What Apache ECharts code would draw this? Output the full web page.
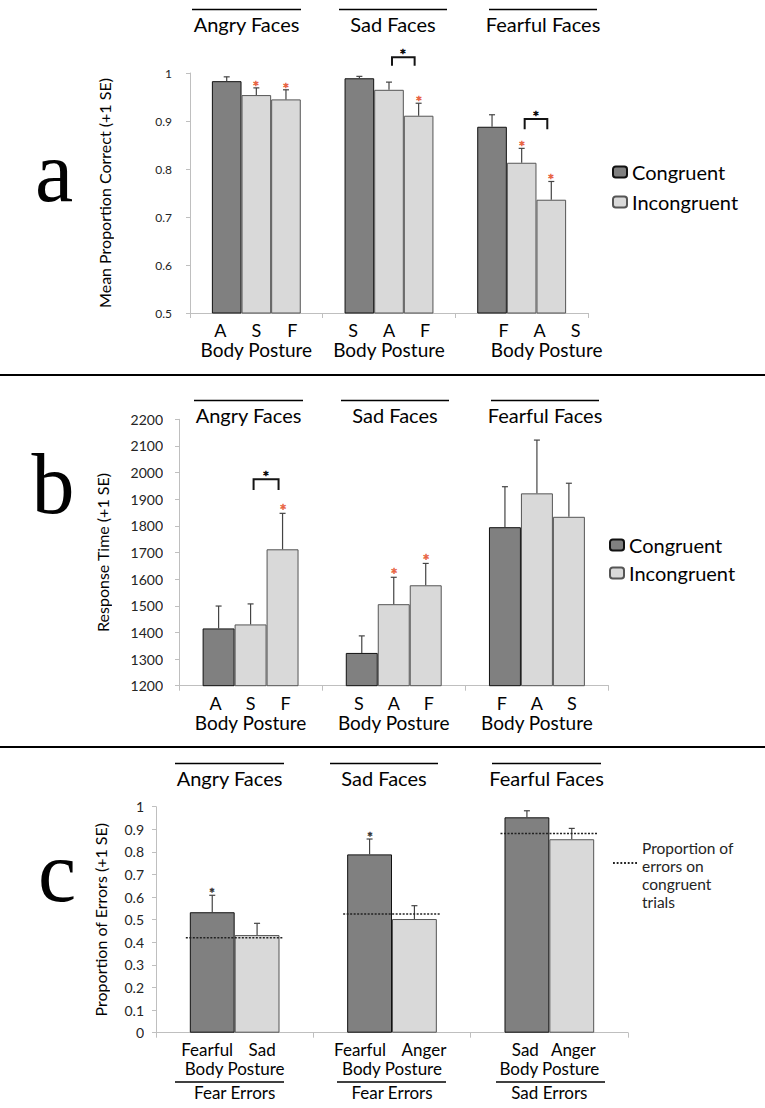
<!DOCTYPE html>
<html><head><meta charset="utf-8">
<script src="https://cdn.jsdelivr.net/npm/echarts@6/dist/echarts.min.js"></script>
<style>html,body{margin:0;padding:0;background:#fff}#c{width:765px;height:1108px}#c svg text{opacity:0.99}</style>
</head><body><div id="c"></div>
<script>
// ---------- Panel a: accuracy ----------
const faceGroups = ['Angry Faces', 'Sad Faces', 'Fearful Faces'];
const postureA = [['A', 'S', 'F'], ['S', 'A', 'F'], ['F', 'A', 'S']];
const accCongruent = [0.983, 0.989, 0.888];
const accIncong1 = [0.954, 0.965, 0.813];
const accIncong2 = [0.945, 0.911, 0.736];
const accSECong = [0.009, 0.004, 0.025];
const accSEInc1 = [0.015, 0.016, 0.030];
const accSEInc2 = [0.020, 0.026, 0.038];
const accSigInc1 = [1, 0, 1];
const accSigInc2 = [1, 1, 1];
// [category, fromBar, toBar, bracketTop, bracketLegEnd]
const accBrackets = [[1, 1, 2, 1.033, 1.015], [2, 1, 2, 0.904, 0.883]];

// ---------- Panel b: response time ----------
const postureB = [['A', 'S', 'F'], ['S', 'A', 'F'], ['F', 'A', 'S']];
const rtCongruent = [1415, 1323, 1795];
const rtIncong1 = [1430, 1506, 1922];
const rtIncong2 = [1712, 1577, 1834];
const rtSECong = [84, 64, 152];
const rtSEInc1 = [77, 101, 200];
const rtSEInc2 = [135, 82, 126];
const rtSigInc1 = [0, 1, 0];
const rtSigInc2 = [1, 1, 0];
const rtBrackets = [[0, 1, 2, 1975, 1935]];

// ---------- Panel c: error proportions ----------
const postureC = [['Fearful', 'Sad'], ['Fearful', 'Anger'], ['Sad', 'Anger']];
const errorType = ['Fear Errors', 'Fear Errors', 'Sad Errors'];
const errFirst = [0.533, 0.789, 0.953];
const errSecond = [0.432, 0.503, 0.856];
const errSEFirst = [0.075, 0.068, 0.029];
const errSESecond = [0.052, 0.059, 0.048];
const errSigFirst = [1, 1, 0];
const errCongruentBaseline = [0.42, 0.525, 0.881];

const yTicksA = {min: 0.5, max: 1, interval: 0.1};
const yTicksB = {min: 1200, max: 2200, interval: 100};
const yTicksC = {min: 0, max: 1, interval: 0.1};

const FONT = 'Lato';
const DARK = '#808080', LIGHT = '#d9d9d9', RED = '#e8603c', INK = '#141414';
const GAP_A = 0.33, GAP_B = 0.33, GAP_C = 0.43;

function barX(api, cat, bi, n, gap) {
  const band = api.size([1, 0])[0];
  const bw = band * (1 - gap) / n;
  const c = api.coord([cat, 0])[0];
  return {x: c - n * bw / 2 + (bi + 0.5) * bw, bw: bw};
}
function starText(x, y, color, size) {
  return {type: 'text', x: Math.round(x), y: Math.round(y), silent: true,
    style: {text: '*', fill: color, stroke: color, lineWidth: 0.5, fontSize: size, fontFamily: FONT, align: 'center', verticalAlign: 'middle'}};
}
function makeErr(n, gap, starColor, starSize) {
  return function (params, api) {
    const cat = api.value(0), bi = api.value(1), v = api.value(2), se = api.value(3), sig = api.value(4);
    const x = barX(api, cat, bi, n, gap).x;
    const y0 = api.coord([cat, v])[1], y1 = api.coord([cat, v + se])[1];
    const ch = [
      {type: 'line', shape: {x1: x, y1: y0, x2: x, y2: y1}, style: {stroke: '#444', lineWidth: 1.2}},
      {type: 'line', shape: {x1: x - 3, y1: y1, x2: x + 3, y2: y1}, style: {stroke: '#444', lineWidth: 1.2}}
    ];
    if (sig) ch.push(starText(x, y1 - 3, starColor, starSize));
    return {type: 'group', children: ch};
  };
}
function bracketEnds(api, n, gap) {
  const cat = api.value(0), f = api.value(1), t = api.value(2);
  return [barX(api, cat, f, n, gap).x + 3, barX(api, cat, t, n, gap).x - 4];
}
function makeBracket(n, gap) {
  return function (params, api) {
    const cat = api.value(0), top = api.value(3), leg = api.value(4);
    const e = bracketEnds(api, n, gap);
    const yt = api.coord([cat, top])[1], yl = api.coord([cat, leg])[1];
    return {type: 'polyline', shape: {points: [[e[0], yl], [e[0], yt], [e[1], yt], [e[1], yl]]},
      style: {stroke: INK, lineWidth: 2, fill: 'none'}};
  };
}
function makeBracketStar(n, gap) {
  return function (params, api) {
    const cat = api.value(0), top = api.value(3);
    const e = bracketEnds(api, n, gap);
    const yt = api.coord([cat, top])[1];
    return starText((e[0] + e[1]) / 2, yt - 4, '#000', 16);
  };
}
function dottedRender(params, api) {
  const cat = api.value(0), v = api.value(1);
  const a = barX(api, cat, 0, 2, GAP_C), b = barX(api, cat, 1, 2, GAP_C);
  const y = api.coord([cat, v])[1];
  return {type: 'line', shape: {x1: a.x - a.bw / 2 - 4, y1: y, x2: b.x + b.bw / 2 + 4, y2: y},
    style: {stroke: '#222', lineWidth: 1.5, lineDash: [2, 1.5]}};
}
function errData(values, ses, sigs, bi) {
  return values.map((v, i) => [i, bi, v, ses[i], sigs ? sigs[i] : 0]);
}

const axisLineStyle = {lineStyle: {color: '#bfbfbf', width: 1}};
function yAxis(grid, t, name, gap, fs, margin) {
  return {type: 'value', gridIndex: grid, min: t.min, max: t.max, interval: t.interval,
    name: name, nameLocation: 'middle', nameRotate: 90, nameGap: gap,
    nameTextStyle: {fontSize: 16, fontFamily: FONT, color: '#000'},
    axisLine: {show: true, lineStyle: {color: '#bfbfbf'}},
    axisTick: {show: true, length: 4, lineStyle: {color: '#bfbfbf'}},
    splitLine: {show: false},
    axisLabel: {fontSize: fs, fontFamily: FONT, color: '#222', margin: margin,
      formatter: function (v) { return String(+v.toFixed(2)); }}};
}
function xAxisBase(grid) {
  return {type: 'category', gridIndex: grid, data: faceGroups,
    axisLine: axisLineStyle, axisTick: {show: true, length: 5, lineStyle: {color: '#bfbfbf'}}};
}

const xa = xAxisBase(0);
xa.axisLabel = {interval: 0, margin: 7, color: '#000', fontFamily: FONT,
  formatter: function (v, i) {
    const s1 = i === 2 ? '{s36| }' : '', s2 = i === 2 ? '{s50| }' : '';
    return s1 + postureA[i].map(p => '{p|' + p + '}').join('') + '\n' + s2 + '{bp|Body Posture}';
  },
  rich: {p: {width: 36, align: 'center', fontSize: 18, lineHeight: 19.5, fontFamily: FONT, color: '#000'},
    bp: {fontSize: 19, lineHeight: 19.5, fontFamily: FONT, color: '#000'},
    s36: {width: 36, fontSize: 18}, s50: {width: 50, fontSize: 18}}};
const xb = xAxisBase(1);
xb.axisLabel = {interval: 0, margin: 7, color: '#000', fontFamily: FONT,
  formatter: function (v, i) {
    return postureB[i].map(p => '{p|' + p + '}').join('') + '\n{bp|Body Posture}';
  },
  rich: {p: {width: 35, align: 'center', fontSize: 18, lineHeight: 20, fontFamily: FONT, color: '#000'},
    bp: {fontSize: 19, lineHeight: 20, fontFamily: FONT, color: '#000'}}};
const xc = xAxisBase(2);
xc.axisLabel = {interval: 0, margin: 7, color: '#000', fontFamily: FONT,
  formatter: function (v, i) {
    return postureC[i].map(p => '{w' + i + '|' + p + '}').join('') + '\n{bp|Body Posture}\n{fe|' + errorType[i] + '}';
  },
  rich: {w0: {width: 55, align: 'center', fontSize: 17, lineHeight: 19, fontFamily: FONT, color: '#000'},
    w1: {width: 64, align: 'center', fontSize: 17, lineHeight: 19, fontFamily: FONT, color: '#000'},
    w2: {width: 48, align: 'center', fontSize: 17, lineHeight: 19, fontFamily: FONT, color: '#000'},
    bp: {fontSize: 17, lineHeight: 19, fontFamily: FONT, color: '#000'},
    fe: {fontSize: 17, lineHeight: 30, fontFamily: FONT, color: '#000'}}};

const darkStyle = {color: DARK, borderColor: '#111', borderWidth: 1};
const lightStyle = {color: LIGHT, borderColor: '#555', borderWidth: 1};
function bar(name, grid, data, style, gap) {
  return {type: 'bar', name: name, xAxisIndex: grid, yAxisIndex: grid, data: data,
    barGap: '0%', barCategoryGap: (gap * 100) + '%', itemStyle: style, emphasis: {disabled: true}};
}
function custom(name, grid, data, render, dims, color) {
  return {type: 'custom', name: name, xAxisIndex: grid, yAxisIndex: grid, data: data,
    renderItem: render, clip: false, encode: {x: 0, y: dims}, silent: true, z: 5,
    itemStyle: {color: color || INK}, emphasis: {disabled: true}};
}

const dotIcon = 'path://M0,0h2v2h-2zM4,0h2v2h-2zM8,0h2v2h-2zM12,0h2v2h-2zM16,0h2v2h-2zM20,0h2v2h-2zM24,0h2v2h-2z';
const legendText = {fontSize: 20, fontFamily: FONT, color: '#000', lineHeight: 20};

function headerGraphics(y, items) {
  const out = [];
  items.forEach(function (it, i) {
    out.push({type: 'line', shape: {x1: it[0], y1: y, x2: it[1], y2: y}, style: {stroke: '#000', lineWidth: 1.6}});
    out.push({type: 'text', x: (it[0] + it[1]) / 2, y: y + 14, style: {text: faceGroups[i], fontSize: 20, fontFamily: FONT, fill: '#000', align: 'center', verticalAlign: 'middle'}});
  });
  return out;
}

const graphic = [].concat(
  headerGraphics(9.5, [[192, 301], [339, 447], [489, 597]]),
  headerGraphics(400.5, [[194, 303], [341, 449], [491, 599]]),
  headerGraphics(763.5, [[175, 284], [330, 438], [492, 601]]),
  [
    {type: 'line', shape: {x1: 0, y1: 375, x2: 765, y2: 375}, style: {stroke: '#000', lineWidth: 2}},
    {type: 'line', shape: {x1: 0, y1: 747, x2: 765, y2: 747}, style: {stroke: '#000', lineWidth: 2}},
    {type: 'line', shape: {x1: 175, y1: 1082, x2: 284, y2: 1082}, style: {stroke: '#000', lineWidth: 1.6}},
    {type: 'line', shape: {x1: 337, y1: 1082, x2: 446, y2: 1082}, style: {stroke: '#000', lineWidth: 1.6}},
    {type: 'line', shape: {x1: 496, y1: 1082, x2: 605, y2: 1082}, style: {stroke: '#000', lineWidth: 1.6}},
    {type: 'text', x: 54, y: 172, style: {text: 'a', fontSize: 86, fontFamily: 'Liberation Serif', fill: '#000', align: 'center', verticalAlign: 'middle'}},
    {type: 'text', x: 53, y: 484, style: {text: 'b', fontSize: 86, fontFamily: 'Liberation Serif', fill: '#000', align: 'center', verticalAlign: 'middle'}},
    {type: 'text', x: 57, y: 872, style: {text: 'c', fontSize: 86, fontFamily: 'Liberation Serif', fill: '#000', align: 'center', verticalAlign: 'middle'}}
  ]
);

const option = {
  animation: false,
  backgroundColor: '#fff',
  grid: [
    {left: 190, top: 73, width: 398, height: 240},
    {left: 179, top: 419.3, width: 429.5, height: 266.4},
    {left: 156, top: 806.7, width: 472, height: 226}
  ],
  xAxis: [xa, xb, xc],
  yAxis: [
    yAxis(0, yTicksA, 'Mean Proportion Correct (+1 SE)', 78, 12, 18),
    yAxis(1, yTicksB, 'Response Time (+1 SE)', 69, 14, 16),
    yAxis(2, yTicksC, 'Proportion of Errors (+1 SE)', 48, 14, 12)
  ],
  legend: [
    {data: ['Congruent', 'Incongruent'], orient: 'vertical', left: 612, top: 162, padding: 0,
      itemWidth: 14, itemHeight: 11, itemGap: 10, textStyle: legendText, selectedMode: false},
    {data: ['Congruent', 'Incongruent'], orient: 'vertical', left: 609, top: 535, padding: 0,
      itemWidth: 14, itemHeight: 11, itemGap: 8, textStyle: legendText, selectedMode: false},
    {data: [{name: 'Proportion of errors on congruent trials', icon: dotIcon}], left: 613, top: 815, padding: 0,
      itemWidth: 24, itemHeight: 2, selectedMode: false,
      formatter: function () { return '{sp| }\n{t|Proportion of}\n{t|errors on}\n{t|congruent}\n{t|trials}'; },
      textStyle: {fontSize: 15.5, fontFamily: FONT, color: '#222', lineHeight: 18,
        rich: {sp: {fontSize: 10, lineHeight: 24}, t: {fontSize: 15.5, lineHeight: 18, fontFamily: FONT, color: '#222'}}}}
  ],
  series: [
    bar('Congruent', 0, accCongruent, darkStyle, GAP_A),
    bar('Incongruent', 0, accIncong1, lightStyle, GAP_A),
    bar('Incongruent', 0, accIncong2, lightStyle, GAP_A),
    custom('SE a', 0, [].concat(errData(accCongruent, accSECong, null, 0), errData(accIncong1, accSEInc1, accSigInc1, 1), errData(accIncong2, accSEInc2, accSigInc2, 2)), makeErr(3, GAP_A, RED, 16), 2, '#444'),
    custom('Brackets a', 0, accBrackets, makeBracket(3, GAP_A), 3, INK),
    custom('Bracket stars a', 0, accBrackets, makeBracketStar(3, GAP_A), 3, '#000'),

    bar('Congruent', 1, rtCongruent, darkStyle, GAP_B),
    bar('Incongruent', 1, rtIncong1, lightStyle, GAP_B),
    bar('Incongruent', 1, rtIncong2, lightStyle, GAP_B),
    custom('SE b', 1, [].concat(errData(rtCongruent, rtSECong, null, 0), errData(rtIncong1, rtSEInc1, rtSigInc1, 1), errData(rtIncong2, rtSEInc2, rtSigInc2, 2)), makeErr(3, GAP_B, RED, 17), 2, '#444'),
    custom('Brackets b', 1, rtBrackets, makeBracket(3, GAP_B), 3, INK),
    custom('Bracket stars b', 1, rtBrackets, makeBracketStar(3, GAP_B), 3, '#000'),

    bar('First posture errors', 2, errFirst, darkStyle, GAP_C),
    bar('Second posture errors', 2, errSecond, lightStyle, GAP_C),
    custom('SE c', 2, [].concat(errData(errFirst, errSEFirst, errSigFirst, 0), errData(errSecond, errSESecond, null, 1)), makeErr(2, GAP_C, '#333', 14), 2, '#444'),
    custom('Proportion of errors on congruent trials', 2, errCongruentBaseline.map((v, i) => [i, v]), dottedRender, 1, '#222')
  ],
  graphic: graphic
};

const chart = echarts.init(document.getElementById('c'), null, {renderer: 'svg'});
chart.setOption(option);
</script></body></html>
